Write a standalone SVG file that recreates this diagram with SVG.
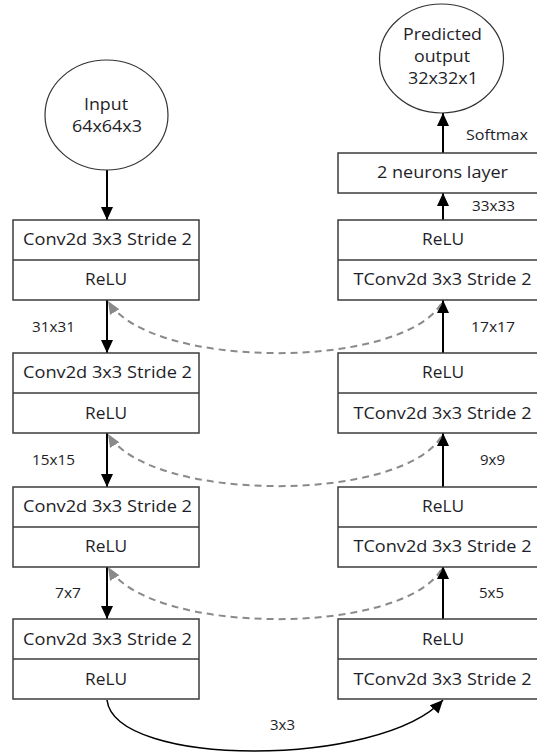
<svg xmlns="http://www.w3.org/2000/svg" width="537" height="753" viewBox="0 0 537 753">
<defs>
<marker id="ah" markerUnits="userSpaceOnUse" markerWidth="13" markerHeight="12" viewBox="0 0 13 12" refX="13" refY="6" orient="auto"><path d="M0,0 L13,6 L0,12 z" fill="#000"/></marker>
<marker id="ahg" markerUnits="userSpaceOnUse" markerWidth="13" markerHeight="11" viewBox="0 0 13 11" refX="13" refY="5.5" orient="auto"><path d="M0,0 L13,5.5 L0,11 z" fill="#8a8a8a"/></marker>
<style>
.box{fill:#fff;stroke:#3c3c3c;stroke-width:1.5}
.div{stroke:#3c3c3c;stroke-width:1.5}
.ell{fill:#fff;stroke:#333;stroke-width:1.2}
.t{font-family:"Open Sans","Noto Sans",sans-serif;font-size:16px;fill:#1e1e28}
.s{font-family:"Open Sans","Noto Sans",sans-serif;font-size:15px;fill:#1e1e28}
.ar{stroke:#000;stroke-width:2;fill:none;marker-end:url(#ah)}
.cv{stroke:#000;stroke-width:1.5;fill:none;marker-end:url(#ah)}
.da{stroke:#8a8a8a;stroke-width:2;fill:none;stroke-dasharray:7 5;marker-end:url(#ahg)}
</style>
</defs>
<rect width="537" height="753" fill="#fff"/>
<g id="connectors">
<line class="ar" x1="107" y1="170" x2="107" y2="220"/>
<line class="ar" x1="107" y1="300" x2="107" y2="353"/>
<line class="ar" x1="107" y1="433" x2="107" y2="487"/>
<line class="ar" x1="107" y1="566" x2="107" y2="619"/>
<line class="ar" x1="443" y1="619" x2="443" y2="566"/>
<line class="ar" x1="443" y1="487" x2="443" y2="433"/>
<line class="ar" x1="443" y1="353" x2="443" y2="300"/>
<line class="ar" x1="443" y1="220" x2="443" y2="193"/>
<line class="ar" x1="443" y1="153" x2="443" y2="113"/>
<path class="da" d="M441,304 C400,370 150,370 108,301"/>
<path class="da" d="M441,437 C400,503 150,503 108,434"/>
<path class="da" d="M441,570 C400,636 150,636 108,567"/>
<path class="cv" d="M107,700 C115,768 380,768 443,700"/>
</g>
<g id="input">
<ellipse class="ell" cx="106.5" cy="115" rx="61.5" ry="55"/>
<text class="t" x="84" y="110" textLength="44" lengthAdjust="spacingAndGlyphs">Input</text>
<text class="t" x="72" y="131.5" textLength="70" lengthAdjust="spacingAndGlyphs">64x64x3</text>
</g>
<g id="output">
<ellipse class="ell" cx="441.5" cy="58.5" rx="62" ry="54.5"/>
<text class="t" x="403" y="39.5" textLength="79" lengthAdjust="spacingAndGlyphs">Predicted</text>
<text class="t" x="414" y="62" textLength="56" lengthAdjust="spacingAndGlyphs">output</text>
<text class="t" x="408" y="84" textLength="70" lengthAdjust="spacingAndGlyphs">32x32x1</text>
</g>
<g id="enc1">
<rect class="box" x="13" y="220" width="186" height="80"/><line class="div" x1="13" y1="260" x2="199" y2="260"/>
<text class="t" x="23" y="244.5" textLength="169" lengthAdjust="spacingAndGlyphs">Conv2d 3x3 Stride 2</text>
<text class="t" x="85" y="285" textLength="42" lengthAdjust="spacingAndGlyphs">ReLU</text>
</g>
<g id="enc2">
<rect class="box" x="13" y="353" width="186" height="80"/><line class="div" x1="13" y1="393" x2="199" y2="393"/>
<text class="t" x="23" y="378" textLength="169" lengthAdjust="spacingAndGlyphs">Conv2d 3x3 Stride 2</text>
<text class="t" x="85" y="418.5" textLength="42" lengthAdjust="spacingAndGlyphs">ReLU</text>
</g>
<g id="enc3">
<rect class="box" x="13" y="487" width="186" height="80"/><line class="div" x1="13" y1="527" x2="199" y2="527"/>
<text class="t" x="23" y="511.5" textLength="169" lengthAdjust="spacingAndGlyphs">Conv2d 3x3 Stride 2</text>
<text class="t" x="85" y="552" textLength="42" lengthAdjust="spacingAndGlyphs">ReLU</text>
</g>
<g id="enc4">
<rect class="box" x="13" y="619" width="186" height="80"/><line class="div" x1="13" y1="659" x2="199" y2="659"/>
<text class="t" x="23" y="644.5" textLength="169" lengthAdjust="spacingAndGlyphs">Conv2d 3x3 Stride 2</text>
<text class="t" x="85" y="685" textLength="42" lengthAdjust="spacingAndGlyphs">ReLU</text>
</g>
<g id="dense">
<rect class="box" x="338" y="153" width="210" height="40"/>
<text class="t" x="377" y="178" textLength="131" lengthAdjust="spacingAndGlyphs">2 neurons layer</text>
</g>
<g id="dec1">
<rect class="box" x="338" y="220" width="210" height="80"/><line class="div" x1="338" y1="260" x2="548" y2="260"/>
<text class="t" x="422" y="244.5" textLength="42" lengthAdjust="spacingAndGlyphs">ReLU</text>
<text class="t" x="353.5" y="285" textLength="178" lengthAdjust="spacingAndGlyphs">TConv2d 3x3 Stride 2</text>
</g>
<g id="dec2">
<rect class="box" x="338" y="353" width="210" height="80"/><line class="div" x1="338" y1="393" x2="548" y2="393"/>
<text class="t" x="422" y="378" textLength="42" lengthAdjust="spacingAndGlyphs">ReLU</text>
<text class="t" x="353.5" y="418.5" textLength="178" lengthAdjust="spacingAndGlyphs">TConv2d 3x3 Stride 2</text>
</g>
<g id="dec3">
<rect class="box" x="338" y="487" width="210" height="80"/><line class="div" x1="338" y1="527" x2="548" y2="527"/>
<text class="t" x="422" y="511.5" textLength="42" lengthAdjust="spacingAndGlyphs">ReLU</text>
<text class="t" x="353.5" y="552" textLength="178" lengthAdjust="spacingAndGlyphs">TConv2d 3x3 Stride 2</text>
</g>
<g id="dec4">
<rect class="box" x="338" y="619" width="210" height="80"/><line class="div" x1="338" y1="659" x2="548" y2="659"/>
<text class="t" x="422" y="644.5" textLength="42" lengthAdjust="spacingAndGlyphs">ReLU</text>
<text class="t" x="353.5" y="685" textLength="178" lengthAdjust="spacingAndGlyphs">TConv2d 3x3 Stride 2</text>
</g>
<g id="labels">
<text class="s" x="32" y="332" textLength="43" lengthAdjust="spacingAndGlyphs">31x31</text>
<text class="s" x="32" y="465" textLength="43" lengthAdjust="spacingAndGlyphs">15x15</text>
<text class="s" x="55" y="598" textLength="26" lengthAdjust="spacingAndGlyphs">7x7</text>
<text class="s" x="471" y="332" textLength="44" lengthAdjust="spacingAndGlyphs">17x17</text>
<text class="s" x="480" y="465" textLength="25" lengthAdjust="spacingAndGlyphs">9x9</text>
<text class="s" x="479" y="598" textLength="25" lengthAdjust="spacingAndGlyphs">5x5</text>
<text class="s" x="472" y="211" textLength="43" lengthAdjust="spacingAndGlyphs">33x33</text>
<text class="s" x="466" y="140" textLength="62" lengthAdjust="spacingAndGlyphs">Softmax</text>
<text class="s" x="270" y="730" textLength="25" lengthAdjust="spacingAndGlyphs">3x3</text>
</g>
</svg>
